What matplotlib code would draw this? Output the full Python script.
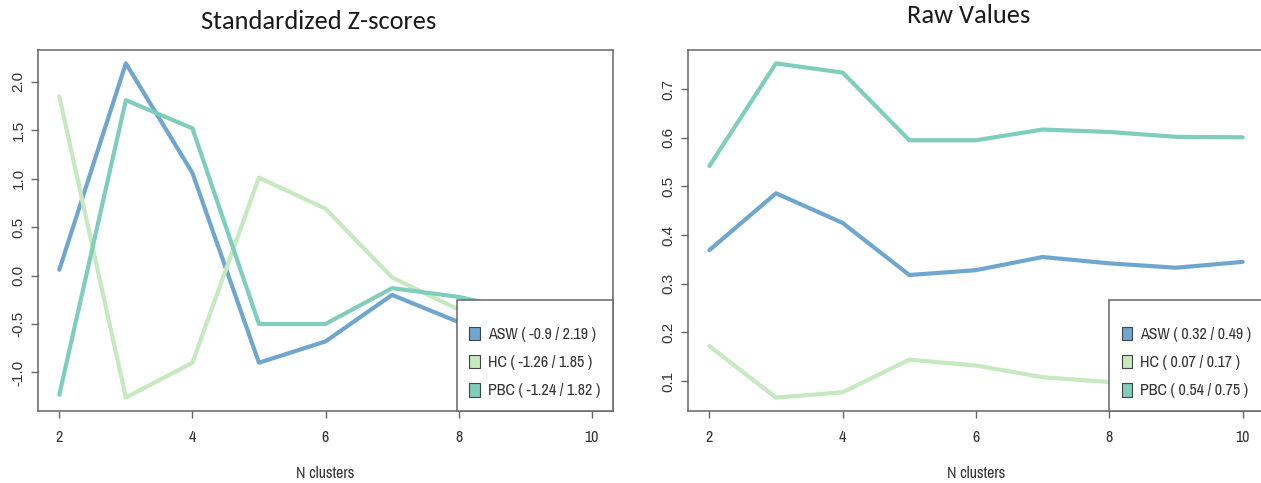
import matplotlib
matplotlib.use("Agg")
import matplotlib.pyplot as plt
from matplotlib.patches import Patch

# ---------------- data ----------------
n_clusters = [2, 3, 4, 5, 6, 7, 8, 9, 10]
series_names = ["ASW", "HC", "PBC"]

z_asw = [0.06, 2.19, 1.06, -0.90, -0.68, -0.20, -0.48, -0.63, -0.40]
z_hc = [1.85, -1.26, -0.90, 1.01, 0.69, -0.02, -0.35, -0.47, -0.56]
z_pbc = [-1.23, 1.81, 1.52, -0.50, -0.50, -0.13, -0.22, -0.37, -0.39]

raw_asw = [0.369, 0.486, 0.425, 0.318, 0.328, 0.355, 0.342, 0.333, 0.345]
raw_hc = [0.172, 0.066, 0.077, 0.144, 0.132, 0.108, 0.098, 0.093, 0.090]
raw_pbc = [0.542, 0.753, 0.734, 0.595, 0.595, 0.617, 0.612, 0.602, 0.601]

z_labels = ["ASW ( -0.9 / 2.19 )", "HC ( -1.26 / 1.85 )", "PBC ( -1.24 / 1.82 )"]
raw_labels = ["ASW ( 0.32 / 0.49 )", "HC ( 0.07 / 0.17 )", "PBC ( 0.54 / 0.75 )"]

x_ticks = [2, 4, 6, 8, 10]
z_ticks = [-1.0, -0.5, 0.0, 0.5, 1.0, 1.5, 2.0]
raw_ticks = [0.1, 0.2, 0.3, 0.4, 0.5, 0.6, 0.7]

titles = ["Standardized Z-scores", "Raw Values"]
x_label = "N clusters"

colors = ["#6FA6CF", "#C7E9C0", "#7FCDBB"]

# ---------------- style ----------------
W, H = 1261, 483
fig = plt.figure(figsize=(W / 100, H / 100), dpi=100)
fig.patch.set_facecolor("white")

NARROW = ["Arial Narrow", "Liberation Sans Narrow", "Archivo Narrow", "DejaVu Sans"]
REGULAR = ["Liberation Sans", "DejaVu Sans"]
TITLE = ["Carlito", "Lato", "DejaVu Sans"]
TXT = "#333333"
SPINE = "#666666"
FS = 11.5


def px_axes(x0, y0, x1, y1):
    return [x0 / W, 1 - y1 / H, (x1 - x0) / W, (y1 - y0) / H]


def r_lim(vals):
    lo = min(min(v) for v in vals)
    hi = max(max(v) for v in vals)
    d = (hi - lo) * 0.04
    return lo - d, hi + d


def draw(ax, series, labels, yticks, fmt):
    for vals, c in zip(series, colors):
        ax.plot(n_clusters, vals, color=c, lw=3.0,
                solid_capstyle="round", solid_joinstyle="round")
    ax.set_xlim(r_lim([n_clusters]))
    ax.set_ylim(r_lim(series))
    ax.set_xticks(x_ticks, [str(t) for t in x_ticks], family=NARROW,
                  fontsize=FS, color=TXT)
    ax.set_yticks(yticks, [fmt.format(t) for t in yticks], family=REGULAR,
                  fontsize=11, color=TXT, rotation=90, va="center")
    ax.tick_params(axis="x", length=5, width=1.0, color=SPINE, pad=9)
    ax.tick_params(axis="y", length=5, width=1.0, color=SPINE, pad=4)
    for s in ax.spines.values():
        s.set_color(SPINE)
        s.set_linewidth(1.1)
    ax.set_xlabel(x_label, family=NARROW, fontsize=FS, color=TXT, labelpad=15)
    handles = [Patch(facecolor=c, edgecolor="#444444", lw=0.8) for c in colors]
    leg = ax.legend(handles, labels, loc="lower right", bbox_to_anchor=(1, 0),
                    borderaxespad=0, fancybox=False, framealpha=1,
                    edgecolor=SPINE, prop={"family": NARROW, "size": FS},
                    handlelength=0.65, handleheight=0.95, handletextpad=0.5,
                    labelspacing=0.8, borderpad=0.8,
                    title=" ", title_fontproperties={"size": 1.5})
    leg.get_frame().set_linewidth(1.1)
    for t in leg.get_texts():
        t.set_color(TXT)


ax1 = fig.add_axes(px_axes(38, 50, 613, 411))
ax2 = fig.add_axes(px_axes(688, 50, 1264, 411))

draw(ax1, [z_asw, z_hc, z_pbc], z_labels, z_ticks, "{:.1f}")
draw(ax2, [raw_asw, raw_hc, raw_pbc], raw_labels, raw_ticks, "{:.1f}")

fig.text(319 / W, 1 - 29 / H, titles[0], ha="center", va="baseline",
         family=TITLE, fontsize=19, color="#1a1a1a")
fig.text(969 / W, 1 - 23 / H, titles[1], ha="center", va="baseline",
         family=TITLE, fontsize=19, color="#1a1a1a")

fig.savefig("out.png", dpi=100)
